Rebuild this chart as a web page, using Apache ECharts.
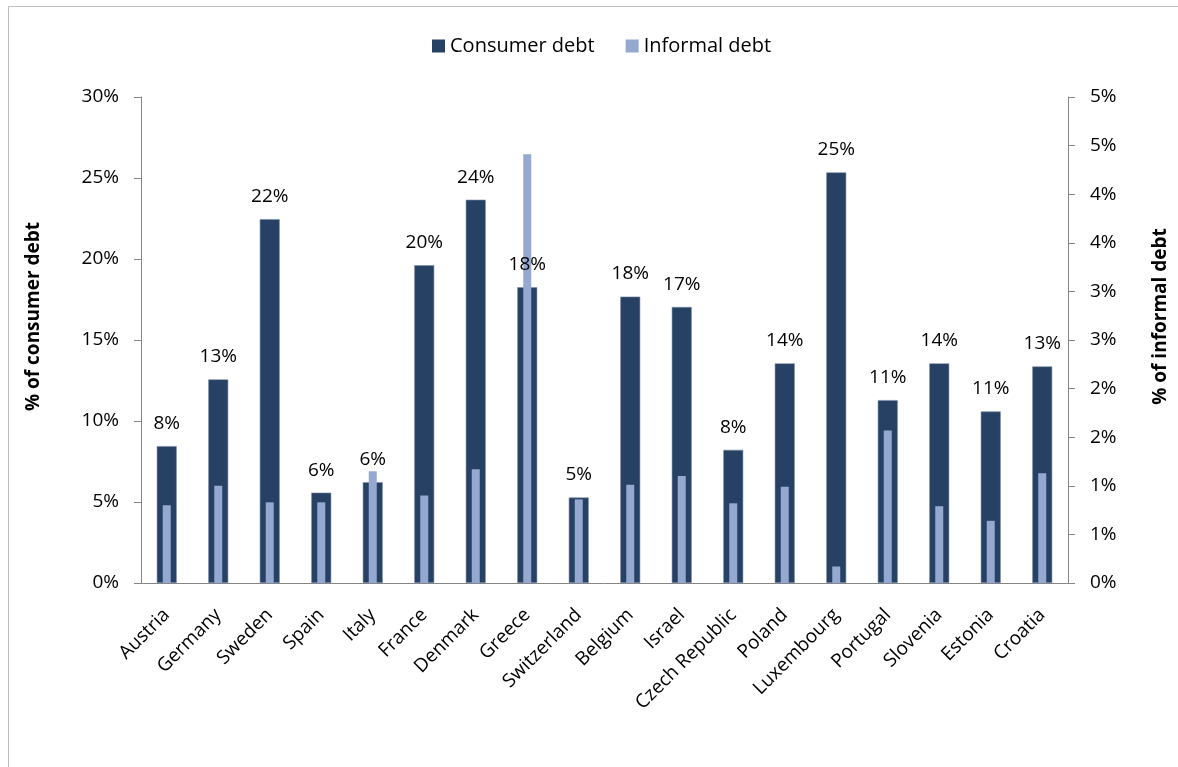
<!DOCTYPE html>
<html>
<head>
<meta charset="utf-8">
<title>Consumer and informal debt</title>
<script src="https://cdn.jsdelivr.net/npm/echarts@6/dist/echarts.min.js"></script>
<style>
  html, body { margin: 0; padding: 0; background: #fff; overflow: hidden; }
  #frame { position: absolute; left: 8px; top: 6px; width: 1170px; height: 761px;
           border-left: 1px solid #bfbfbf; border-top: 1px solid #bfbfbf; box-sizing: border-box; }
  #chart { position: absolute; left: 0; top: 0; width: 1178px; height: 767px; }
</style>
</head>
<body>
<div id="frame"></div>
<div id="chart"></div>
<script>
var countries = ['Austria', 'Germany', 'Sweden', 'Spain', 'Italy', 'France', 'Denmark', 'Greece',
  'Switzerland', 'Belgium', 'Israel', 'Czech Republic', 'Poland', 'Luxembourg', 'Portugal',
  'Slovenia', 'Estonia', 'Croatia']
// % of consumer debt (left axis)
var consumerDebt = [8.45, 12.57, 22.46, 5.58, 6.22, 19.62, 23.66, 18.26, 5.28, 17.68, 17.04,
  8.22, 13.56, 25.35, 11.29, 13.56, 10.59, 13.37]
// % of informal debt (right axis)
var informalDebt = [0.80, 1.00, 0.83, 0.83, 1.15, 0.90, 1.17, 4.41, 0.86, 1.01, 1.10,
  0.82, 0.99, 0.17, 1.57, 0.79, 0.64, 1.13]

var font = 'Open Sans'
var axisGrey = '#868686'

var chart = echarts.init(document.getElementById('chart'))
chart.setOption({
  animation: false,
  textStyle: { fontFamily: font, color: '#000' },
  legend: {
    left: 427,
    top: 31,
    itemWidth: 13,
    itemHeight: 13,
    itemGap: 31,
    icon: 'rect',
    itemStyle: { borderWidth: 0 },
    textStyle: { fontFamily: font, fontSize: 20, color: '#000' },
    data: ['Consumer debt', 'Informal debt']
  },
  grid: { left: 141, right: 109, top: 97, bottom: 184 },
  xAxis: [
    {
      type: 'category',
      data: countries,
      axisLine: { lineStyle: { color: axisGrey } },
      axisTick: { length: 7, lineStyle: { color: axisGrey } },
      axisLabel: { rotate: 45, interval: 0, margin: 29, fontFamily: font, fontSize: 19, color: '#000' }
    },
    {
      // hidden twin axis so the thin bars sit centred on the wide ones
      type: 'category',
      data: countries,
      show: false
    }
  ],
  yAxis: [
    {
      type: 'value',
      min: 0,
      max: 30,
      interval: 5,
      position: 'left',
      name: '% of consumer debt',
      nameLocation: 'middle',
      nameRotate: 90,
      nameGap: 98,
      nameTextStyle: { fontFamily: font, fontSize: 19, fontWeight: 'bold', color: '#000', padding: [0, 0, 0, 47] },
      axisLine: { show: true, lineStyle: { color: axisGrey } },
      axisTick: { show: true, length: 7, lineStyle: { color: axisGrey } },
      splitLine: { show: false },
      axisLabel: { margin: 22, fontFamily: font, fontSize: 19, color: '#000', formatter: '{value}%' }
    },
    {
      type: 'value',
      min: 0,
      max: 5,
      interval: 0.5,
      position: 'right',
      name: '% of informal debt',
      nameLocation: 'middle',
      nameRotate: 90,
      nameGap: 83,
      nameTextStyle: { fontFamily: font, fontSize: 19, fontWeight: 'bold', color: '#000', padding: [0, 0, 0, 47] },
      axisLine: { show: true, lineStyle: { color: axisGrey } },
      axisTick: { show: true, length: 7, lineStyle: { color: axisGrey } },
      splitLine: { show: false },
      axisLabel: {
        margin: 22,
        fontFamily: font,
        fontSize: 19,
        color: '#000',
        formatter: function (v) { return Math.round(v) + '%' }
      }
    }
  ],
  series: [
    {
      name: 'Consumer debt',
      type: 'bar',
      xAxisIndex: 0,
      yAxisIndex: 0,
      barWidth: 20,
      data: consumerDebt,
      itemStyle: { color: '#264163', borderColor: '#7d8fab', borderWidth: 0.6 },
      label: {
        show: true,
        position: 'top',
        distance: 13,
        fontFamily: font,
        fontSize: 19,
        color: '#000',
        formatter: function (p) { return Math.round(p.value) + '%' }
      }
    },
    {
      name: 'Informal debt',
      type: 'bar',
      xAxisIndex: 1,
      yAxisIndex: 1,
      barWidth: 8,
      data: informalDebt,
      itemStyle: { color: '#95a9d0' }
    }
  ]
})
</script>
</body>
</html>
